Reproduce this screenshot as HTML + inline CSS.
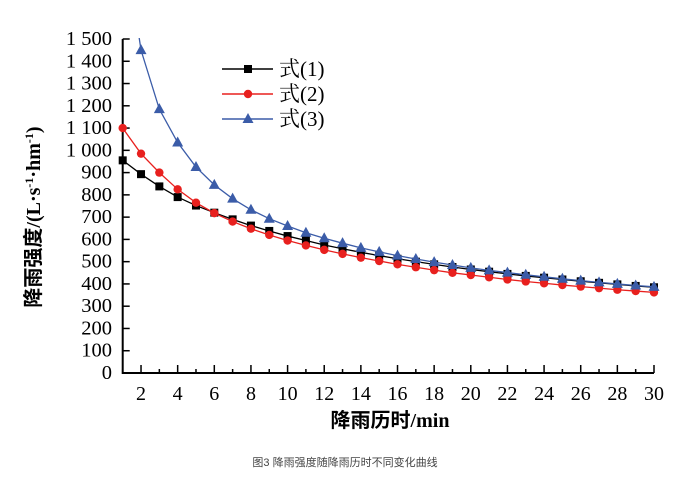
<!DOCTYPE html>
<html><head><meta charset="utf-8"><style>
body{margin:0;background:#fff}
svg text{font-family:"Liberation Serif","Noto Serif CJK SC",serif}
</style></head><body>
<svg id="c" width="689" height="485" xmlns="http://www.w3.org/2000/svg">
<defs><clipPath id="clip"><rect x="118" y="38" width="545" height="340"/></clipPath></defs>
<g id="axes"></g>
<g id="series" clip-path="url(#clip)"></g>
<g id="legend"></g>
<text x="28" y="205" transform="rotate(-90 40 205)" text-anchor="middle" font-size="20" font-weight="bold" style="font-family:'Liberation Serif','Noto Sans CJK SC',serif">降雨强度/(L·s<tspan font-size="12" dy="-7">-1</tspan><tspan dy="7">·hm</tspan><tspan font-size="12" dy="-7">-1</tspan><tspan dy="7">)</tspan></text>
<text x="390" y="427" text-anchor="middle" font-size="20" font-weight="bold" style="font-family:'Liberation Serif','Noto Sans CJK SC',serif">降雨历时/min</text>
<text x="345" y="466" text-anchor="middle" font-size="11" fill="#444" style="font-family:'Liberation Sans','Noto Sans CJK SC',sans-serif">图3 降雨强度随降雨历时不同变化曲线</text>
</svg>
<script>
const xCats=[1,2,3,4,5,6,7,8,9,10,11,12,13,14,15,16,17,18,19,20,21,22,23,24,25,26,27,28,29,30];
const s1=[955,893,838,790,752,720,690,662,638,615,595,575,558,542,527,513,500,488,476,465,455,445,436,428,420,412,405,398,391,385];
const s2=[1100,985,900,825,765,718,680,648,620,595,573,553,535,518,503,488,475,462,450,440,430,420,411,403,395,388,381,374,368,362];
const s3=[2000,1450,1185,1035,925,845,783,733,693,660,630,605,583,562,544,527,512,498,485,472,461,451,441,432,423,415,407,400,393,387];
const yTicks=[0,100,200,300,400,500,600,700,800,900,1000,1100,1200,1300,1400,1500];
const yTickLabels=["0","100","200","300","400","500","600","700","800","900","1 000","1 100","1 200","1 300","1 400","1 500"];
const xTickLabels=["2","4","6","8","10","12","14","16","18","20","22","24","26","28","30"];
const NS="http://www.w3.org/2000/svg";
const X=v=>122.7+(v-1)*(654-122.7)/29;
const Y=v=>373-v*(373-39)/1500;
function mk(t,a,p){const e=document.createElementNS(NS,t);for(const k in a)e.setAttribute(k,a[k]);p.appendChild(e);return e;}
const ax=document.getElementById('axes');
let e=mk('line',{x1:X(1),y1:Y(0),x2:X(30),y2:Y(0),stroke:'#000','stroke-width':2},ax);

e=mk('line',{x1:X(1),y1:Y(0)+1,x2:X(1),y2:Y(1500),stroke:'#000','stroke-width':2},ax);

yTicks.forEach((v,i)=>{
 e=mk('line',{x1:X(1),y1:Y(v),x2:X(1)+7,y2:Y(v),stroke:'#000','stroke-width':1.5},ax);
 
 e=mk('text',{x:112,y:Y(v)+6,'text-anchor':'end','font-size':20.5},ax);e.textContent=yTickLabels[i];
 
});
xCats.forEach(v=>{
 const major=v%2===0;
 e=mk('line',{x1:X(v),y1:Y(0),x2:X(v),y2:Y(0)-(major?8:4),stroke:'#000','stroke-width':1.5},ax);
 
});
xTickLabels.forEach(l=>{
 e=mk('text',{x:X(+l),y:Y(0)+27,'text-anchor':'middle','font-size':20},ax);e.textContent=l;
 
});
const sg=document.getElementById('series');
function marker(type,x,y,col,g){
 if(type==='sq')return mk('rect',{x:x-4,y:y-4,width:8,height:8,fill:col},g);
 if(type==='ci')return mk('circle',{cx:x,cy:y,r:4.2,fill:col},g);
 return mk('polygon',{points:`${x},${y-6} ${x-5.5},${y+4} ${x+5.5},${y+4}`,fill:col},g);
}
[[s1,'#000','sq','series-1'],[s2,'#e8201e','ci','series-2'],[s3,'#3b5ca8','tr','series-3']].forEach(([d,col,m,n])=>{
 const g=mk('g',{},sg);
 const p=mk('polyline',{points:d.map((v,i)=>X(xCats[i])+','+Y(v)).join(' '),fill:'none',stroke:col,'stroke-width':1.3},g);
 
 d.forEach((v,i)=>{if(v>1500)return;const mm=marker(m,X(xCats[i]),Y(v),col,g);
  });
});
const lg=document.getElementById('legend');
[['式(1)','#000','sq',69],['式(2)','#e8201e','ci',94],['式(3)','#3b5ca8','tr',119]].forEach(([t,col,m,y])=>{
 e=mk('line',{x1:222,y1:y,x2:273,y2:y,stroke:col,'stroke-width':1.5},lg);
 
 e=marker(m,248,y,col,lg);
 e=mk('text',{x:279,y:y+7,'font-size':21},lg);e.textContent=t;
 
});
</script>
</body></html>
